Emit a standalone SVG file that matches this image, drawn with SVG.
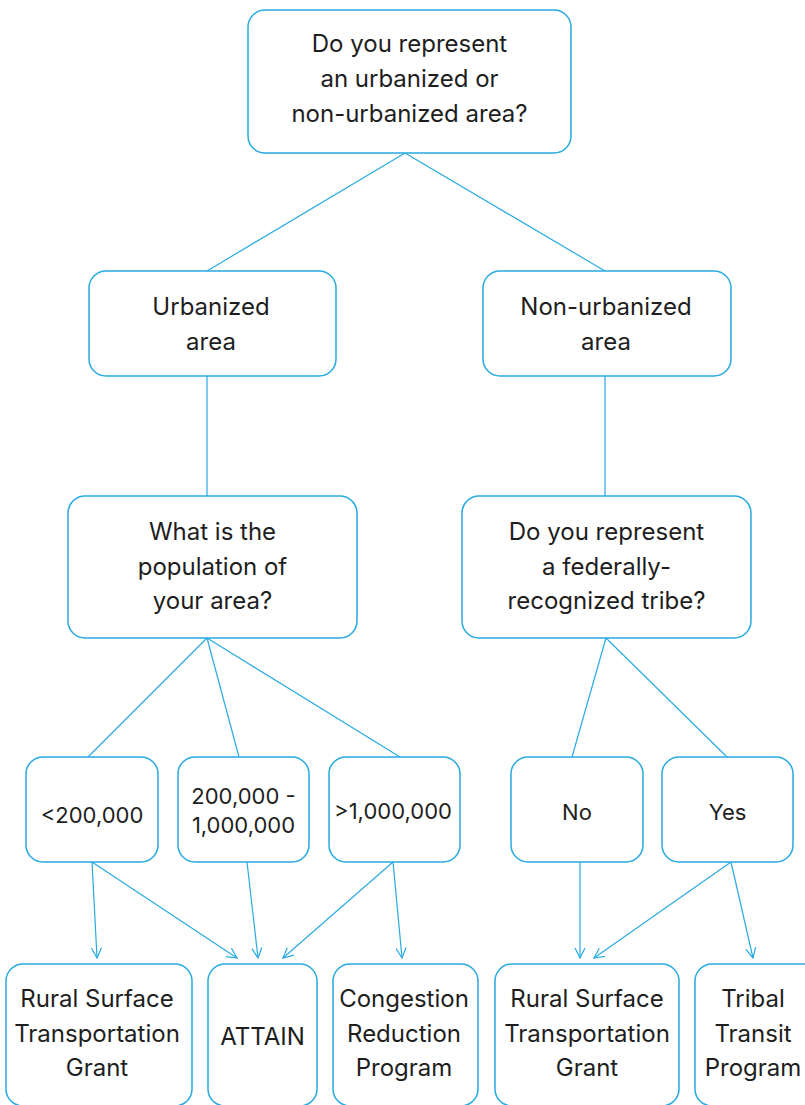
<svg xmlns="http://www.w3.org/2000/svg" width="805" height="1105" viewBox="0 0 805 1105">
<style>
.box{fill:#fff;stroke:#29abe2;stroke-width:1.5}
.t{font-family:Inter,"Noto Sans","Liberation Sans",sans-serif;font-size:24px;fill:#1e1e1e;text-anchor:middle}
.s{font-size:22px}
.c{stroke:#29abe2;stroke-width:1.2;fill:none}
.a{marker-end:url(#arr)}
</style>
<defs>
<marker id="arr" viewBox="0 0 12 12" refX="11" refY="6" markerWidth="12" markerHeight="12" markerUnits="userSpaceOnUse" orient="auto">
<polyline points="1,1 11,6 1,11" fill="none" stroke="#29abe2" stroke-width="1.2"/>
</marker>
</defs>
<rect width="805" height="1105" fill="#fff"/>
<g id="connectors">
<line class="c" x1="405" y1="153" x2="207" y2="271"/>
<line class="c" x1="405" y1="153" x2="605" y2="271"/>
<line class="c" x1="207" y1="376" x2="207" y2="496"/>
<line class="c" x1="605" y1="376" x2="605" y2="496"/>
<line class="c" x1="207" y1="638" x2="88" y2="757"/>
<line class="c" x1="207" y1="638" x2="239" y2="757"/>
<line class="c" x1="207" y1="638" x2="400" y2="757"/>
<line class="c" x1="606" y1="638" x2="572" y2="757"/>
<line class="c" x1="606" y1="638" x2="727" y2="757"/>
<line class="c a" x1="92" y1="862" x2="97" y2="958"/>
<line class="c a" x1="92" y1="862" x2="237" y2="958"/>
<line class="c a" x1="247" y1="862" x2="258" y2="958"/>
<line class="c a" x1="393" y1="862" x2="283" y2="958"/>
<line class="c a" x1="393" y1="862" x2="402" y2="958"/>
<line class="c a" x1="580" y1="862" x2="580" y2="958"/>
<line class="c a" x1="731" y1="862" x2="594" y2="958"/>
<line class="c a" x1="731" y1="862" x2="753" y2="958"/>
</g>
<g id="q1">
<rect class="box" x="248" y="10" width="323" height="143" rx="17"/>
<text class="t" x="409.500" y="52">Do you represent</text>
<text class="t" x="409.500" y="87">an urbanized or</text>
<text class="t" x="409.500" y="122">non-urbanized area?</text>
</g>
<g id="urban">
<rect class="box" x="89" y="271" width="247" height="105" rx="17"/>
<text class="t" x="211" y="315">Urbanized</text>
<text class="t" x="211" y="350">area</text>
</g>
<g id="nonurban">
<rect class="box" x="483" y="271" width="248" height="105" rx="17"/>
<text class="t" x="606" y="315">Non-urbanized</text>
<text class="t" x="606" y="350">area</text>
</g>
<g id="population">
<rect class="box" x="68" y="496" width="289" height="142" rx="17"/>
<text class="t" x="212.500" y="540">What is the</text>
<text class="t" x="212.500" y="575">population of</text>
<text class="t" x="212.500" y="609">your area?</text>
</g>
<g id="tribe">
<rect class="box" x="462" y="496" width="289" height="142" rx="17"/>
<text class="t" x="606.500" y="540">Do you represent</text>
<text class="t" x="606.500" y="575">a federally-</text>
<text class="t" x="606.500" y="609">recognized tribe?</text>
</g>
<g id="lt200k">
<rect class="box" x="26" y="757" width="132" height="105" rx="17"/>
<text class="t s" x="92" y="823">&lt;200,000</text>
</g>
<g id="mid">
<rect class="box" x="178" y="757" width="131" height="105" rx="17"/>
<text class="t s" x="243.500" y="804">200,000 -</text>
<text class="t s" x="243.500" y="833">1,000,000</text>
</g>
<g id="gt1m">
<rect class="box" x="329" y="757" width="131" height="105" rx="17"/>
<text class="t s" x="393" y="819">&gt;1,000,000</text>
</g>
<g id="no">
<rect class="box" x="511" y="757" width="132" height="105" rx="17"/>
<text class="t s" x="577" y="820">No</text>
</g>
<g id="yes">
<rect class="box" x="662" y="757" width="131" height="105" rx="17"/>
<text class="t s" x="727.500" y="820">Yes</text>
</g>
<g id="rural1">
<rect class="box" x="6" y="964" width="186" height="142" rx="17"/>
<text class="t" x="97" y="1007">Rural Surface</text>
<text class="t" x="97" y="1042">Transportation</text>
<text class="t" x="97" y="1076">Grant</text>
</g>
<g id="attain">
<rect class="box" x="208" y="964" width="109" height="142" rx="17"/>
<text class="t" x="262.500" y="1045">ATTAIN</text>
</g>
<g id="congestion">
<rect class="box" x="333" y="964" width="145" height="142" rx="17"/>
<text class="t" x="404" y="1007">Congestion</text>
<text class="t" x="404" y="1042">Reduction</text>
<text class="t" x="404" y="1076">Program</text>
</g>
<g id="rural2">
<rect class="box" x="495" y="964" width="184" height="142" rx="17"/>
<text class="t" x="587" y="1007">Rural Surface</text>
<text class="t" x="587" y="1042">Transportation</text>
<text class="t" x="587" y="1076">Grant</text>
</g>
<g id="tribal">
<rect class="box" x="695" y="964" width="130" height="142" rx="17"/>
<text class="t" x="753" y="1007">Tribal</text>
<text class="t" x="753" y="1042">Transit</text>
<text class="t" x="753" y="1076">Program</text>
</g>
</svg>
